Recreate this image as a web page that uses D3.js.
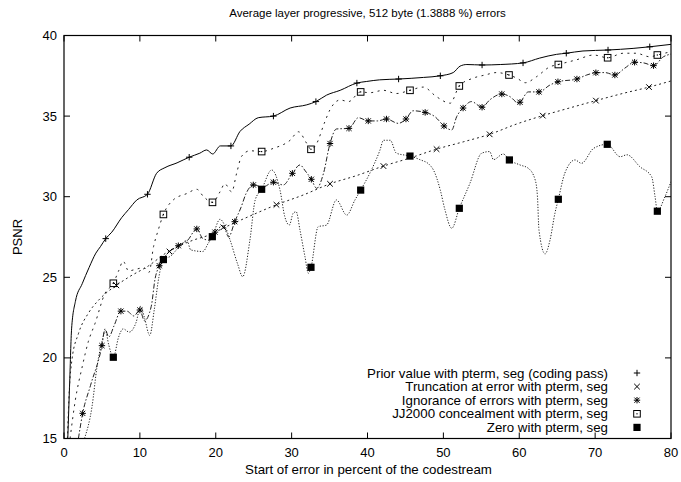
<!DOCTYPE html>
<html>
<head>
<meta charset="utf-8">
<script src="https://cdn.jsdelivr.net/npm/d3@7"></script>
<style>
  body { margin: 0; background: #fff; }
  svg { display: block; }
  text { font-family: "Liberation Sans", Arial, Helvetica, sans-serif; fill: #000; }
</style>
</head>
<body>
<svg id="chart" width="681" height="482"></svg>
<script>
// values: [percent, PSNR]
const priorLine = [[0.5,15],[0.75,18.5],[1.0,21.8],[1.5,23.5],[2.4,24.6],[3.3,25.6],[4.2,26.5],[4.8,26.9],[5.5,27.4],[6.3,27.8],[7.6,28.7],[8.5,29.2],[9.6,29.8],[11,30.15],[12.2,31.45],[13.3,31.8],[14.9,32.1],[16.5,32.45],[17.9,32.7],[18.8,32.9],[19.6,32.65],[20.6,33.15],[22,33.15],[23.2,34.05],[24.4,34.5],[25.6,34.9],[27.6,35.0],[29.8,35.5],[32,35.7],[33.2,35.9],[34.6,36.3],[36.4,36.6],[38.6,37.05],[39.9,37.15],[41.6,37.25],[44.1,37.3],[47.4,37.4],[49.6,37.5],[51.3,37.7],[52.2,38.1],[53.1,38.2],[55.1,38.17],[57.5,38.2],[60.5,38.3],[62.7,38.6],[64.9,38.83],[66.2,38.9],[68.4,39.04],[71.7,39.1],[75,39.2],[77.2,39.3],[80,39.45]];
const priorPts = [[5.5,27.4],[11,30.15],[16.5,32.45],[22,33.15],[27.6,35.0],[33.2,35.9],[38.6,37.05],[44.1,37.3],[49.6,37.5],[55.1,38.17],[60.5,38.3],[66.2,38.9],[71.7,39.1],[77.2,39.3]];

const truncLine = [[0.45,15],[0.7,18],[1.05,19.9],[1.9,21.5],[3.25,22.8],[4.6,23.6],[6.3,24.3],[6.9,24.5],[8.5,25.0],[11.1,25.7],[13.75,26.6],[15,26.9],[17,27.3],[19,27.6],[21.2,28.1],[24.5,28.8],[28,29.5],[31.5,30.1],[35.06,30.8],[38.5,31.3],[42.1,31.9],[45.6,32.4],[49.1,32.95],[52.6,33.4],[56.1,33.87],[59.6,34.5],[63.1,35.03],[66.6,35.5],[70.1,35.96],[73.6,36.4],[77.1,36.8],[80,37.18]];
const truncPts = [[6.9,24.5],[13.9,26.6],[21.0,28.1],[28,29.5],[35.06,30.8],[42.1,31.9],[49.1,32.95],[56.1,33.87],[63.1,35.03],[70.1,35.96],[77.1,36.8]];

const ignorLine = [[1.9,15],[2.46,16.56],[3.5,18.3],[5.0,20.76],[5.4,21.8],[5.9,21.3],[6.6,22.0],[7.5,22.9],[8.3,22.9],[9.2,22.6],[10,22.97],[10.6,22.3],[11.5,23.2],[12.0,24.9],[12.56,25.72],[13.5,26.4],[15.07,26.96],[16.3,27.3],[17.5,28.0],[18.3,27.4],[19.2,27.3],[19.9,27.8],[21,28.2],[21.7,27.5],[22.5,28.45],[23.3,29.3],[24.0,30.2],[24.95,30.73],[26.2,30.6],[27.6,30.9],[28.9,30.73],[30.1,31.45],[31.1,31.97],[31.8,31.6],[32.6,31.08],[33.3,30.52],[34.2,31.45],[35.06,33.3],[35.9,34.2],[37.56,34.24],[38.8,34.9],[40.1,34.7],[41.3,34.7],[42.5,34.82],[44.06,34.55],[45.07,34.82],[46,35.33],[47.6,35.23],[48.9,34.96],[50.08,34.39],[51.1,34.14],[51.75,34.96],[52.6,35.5],[53.7,35.9],[55.1,35.55],[56.1,36.0],[57.7,36.37],[58.8,36.2],[59.9,35.8],[61.2,36.5],[62.6,36.5],[64.05,36.93],[65.1,37.13],[67.6,37.3],[68.9,37.55],[70.1,37.69],[71.3,37.7],[72.6,37.55],[73.9,37.97],[75.2,38.34],[76.4,38.3],[77.7,38.13],[79,38.68],[80,38.85]];
const ignorPts = [[2.46,16.56],[5.0,20.76],[7.5,22.9],[10,22.97],[12.56,25.72],[15.07,26.96],[17.5,28.0],[19.9,27.8],[22.5,28.45],[24.95,30.73],[27.6,30.9],[30.1,31.45],[32.6,31.08],[35.06,33.3],[37.56,34.24],[40.1,34.7],[42.5,34.82],[45.07,34.82],[47.6,35.23],[50.08,34.39],[52.6,35.5],[55.1,35.55],[57.7,36.37],[60.1,35.86],[62.6,36.5],[65.1,37.13],[67.6,37.3],[70.1,37.69],[72.6,37.55],[75.2,38.34],[77.7,38.13]];

const jjLine = [[0.8,15],[1.5,17.4],[2.4,19.45],[3.2,21.0],[4.1,22.15],[5.4,24.0],[6.5,24.63],[7.2,25.4],[7.8,26.0],[8.5,25.4],[9.5,25.5],[10.5,25.6],[11.2,25.3],[11.8,26.9],[12.4,27.9],[13.1,28.9],[14.4,29.8],[16.2,30.2],[17.5,30.46],[18.4,30.0],[19.57,29.65],[20.56,30.3],[21.2,30.8],[22.1,30.3],[22.75,31.45],[23.4,32.5],[24.5,32.85],[26.05,32.8],[27.6,33.0],[29.8,33.5],[30.9,34.03],[32.0,33.3],[32.55,32.94],[33.3,33.3],[34.3,34.55],[35.06,35.4],[36.4,36.0],[37.5,35.9],[39.1,36.5],[40.3,36.45],[42.1,36.6],[43.8,36.4],[45.6,36.6],[47.35,36.8],[49.1,36.2],[50.9,35.8],[52.1,36.87],[53.9,37.35],[55.5,37.55],[57,37.7],[58.65,37.55],[59.7,37.35],[60.8,37.07],[62.3,37.45],[64.05,38.06],[65.15,38.2],[67.6,38.5],[69.8,38.79],[71.65,38.62],[73.7,38.9],[75.4,38.9],[77.2,38.68],[78.2,38.79],[80,39.0]];
const jjPts = [[6.5,24.63],[13.1,28.9],[19.57,29.65],[26.05,32.8],[32.55,32.94],[39.1,36.5],[45.6,36.6],[52.1,36.87],[58.65,37.55],[65.15,38.2],[71.65,38.62],[78.2,38.79]];

const zeroLine = [[2.7,15],[3.7,17],[4.35,19.45],[5.0,21.0],[5.45,21.7],[5.9,20.8],[6.5,20.04],[7.2,21.3],[7.8,21.8],[8.6,21.6],[9.5,22.2],[10.1,23.2],[10.6,22.5],[11.3,21.4],[11.9,23.0],[12.5,25.0],[13.1,26.1],[14,26.3],[15.2,26.9],[16.2,27.3],[16.7,26.7],[18.3,26.6],[19.0,27.1],[19.55,27.52],[20.56,28.6],[21.2,28.2],[21.9,27.3],[22.9,25.8],[23.55,25.04],[24.5,27.3],[25.2,29.8],[26.05,30.46],[27.37,31.66],[28.47,30.41],[29.1,28.76],[29.7,28.24],[30.2,28.97],[30.6,29.07],[31.1,27.93],[31.76,26.28],[32.2,25.25],[32.55,25.62],[33.5,28.14],[34.6,28.24],[35.9,29.8],[37.26,28.86],[38.35,29.8],[39.1,30.41],[40.3,31.45],[41.65,32.9],[42.1,33.5],[43,33.5],[43.8,32.7],[45.6,32.52],[46.9,32.3],[48.2,31.97],[48.7,31.65],[49.6,30.4],[50.2,29.2],[51.1,28.04],[52.1,29.28],[53.5,30.83],[55.05,32.7],[56.1,32.8],[56.6,32.3],[57.9,32.65],[58.7,32.28],[60.1,31.97],[61.2,31.76],[62.1,31.04],[62.4,30.0],[62.6,27.93],[63.4,26.45],[64.05,27.3],[64.7,28.97],[65.15,29.84],[66,31.45],[67.35,32.28],[68.2,32.07],[69.8,33.0],[71.6,33.25],[73.3,32.48],[74.2,32.6],[75.9,31.86],[77.45,31.24],[77.9,30.0],[78.2,29.1],[79.2,30.0],[80,30.93]];
const zeroPts = [[6.5,20.04],[13.1,26.1],[19.55,27.52],[26.05,30.46],[32.55,25.62],[39.1,30.41],[45.6,32.52],[52.1,29.28],[58.7,32.28],[65.15,29.84],[71.6,33.25],[78.2,29.1]];

const seriesNames = [
  'Prior value with pterm, seg (coding pass)',
  'Truncation at error with pterm, seg',
  'Ignorance of errors with pterm, seg',
  'JJ2000 concealment with pterm, seg',
  'Zero with pterm, seg'
];
const xTicks = [0, 10, 20, 30, 40, 50, 60, 70, 80];
const yTicks = [15, 20, 25, 30, 35, 40];

const series = [
  { name: seriesNames[0], line: priorLine, pts: priorPts, dash: null, mark: 'plus' },
  { name: seriesNames[1], line: truncLine, pts: truncPts, dash: '2,3', mark: 'cross' },
  { name: seriesNames[2], line: ignorLine, pts: ignorPts, dash: '5,2,1.5,2', mark: 'star' },
  { name: seriesNames[3], line: jjLine, pts: jjPts, dash: '2,4.5', mark: 'box' },
  { name: seriesNames[4], line: zeroLine, pts: zeroPts, dash: '1.2,1.6', mark: 'fbox' }
];

const svg = d3.select('#chart');
const pLeft = 64, pRight = 671, pTop = 35.5, pBottom = 438.5;

const x = d3.scaleLinear().domain([0, 80]).range([pLeft, pRight]);
const y = d3.scaleLinear().domain([15, 40]).range([pBottom, pTop]);

svg.append('rect').attr('width', 681).attr('height', 482).attr('fill', '#fff');

svg.append('defs').append('clipPath').attr('id', 'plotclip')
  .append('rect').attr('x', pLeft).attr('y', pTop)
  .attr('width', pRight - pLeft).attr('height', pBottom - pTop);

// ticks on all four sides, pointing inward
const tickLen = 6;
const axisG = svg.append('g').attr('stroke', '#000').attr('stroke-width', 1);
xTicks.forEach(t => {
  axisG.append('line').attr('x1', x(t)).attr('x2', x(t)).attr('y1', pBottom).attr('y2', pBottom - tickLen);
  axisG.append('line').attr('x1', x(t)).attr('x2', x(t)).attr('y1', pTop).attr('y2', pTop + tickLen);
});
yTicks.forEach(t => {
  axisG.append('line').attr('x1', pLeft).attr('x2', pLeft + tickLen).attr('y1', y(t)).attr('y2', y(t));
  axisG.append('line').attr('x1', pRight).attr('x2', pRight - tickLen).attr('y1', y(t)).attr('y2', y(t));
});

svg.append('g').selectAll('text').data(xTicks).join('text')
  .attr('x', d => x(d)).attr('y', 456.5)
  .attr('text-anchor', 'middle').attr('font-size', 13).text(d => d);
svg.append('g').selectAll('text').data(yTicks).join('text')
  .attr('x', 57).attr('y', d => y(d)).attr('dy', '0.35em')
  .attr('text-anchor', 'end').attr('font-size', 13).text(d => d);

svg.append('text').attr('x', (pLeft + pRight) / 2).attr('y', 17)
  .attr('text-anchor', 'middle').attr('font-size', 11.5)
  .text('Average layer progressive, 512 byte (1.3888 %) errors');
svg.append('text').attr('x', (pLeft + pRight) / 2 + 1).attr('y', 474)
  .attr('text-anchor', 'middle').attr('font-size', 13.3)
  .text('Start of error in percent of the codestream');
svg.append('text').attr('transform', `translate(22,${(pTop + pBottom) / 2}) rotate(-90)`)
  .attr('text-anchor', 'middle').attr('font-size', 13).text('PSNR');

// curves
const lineGen = d3.line().x(d => x(d[0])).y(d => y(d[1])).curve(d3.curveMonotoneX);
const plot = svg.append('g').attr('clip-path', 'url(#plotclip)');

series.forEach(s => {
  plot.append('path').datum(s.line)
    .attr('d', lineGen)
    .attr('fill', 'none')
    .attr('stroke', s.dash ? '#222' : '#000')
    .attr('stroke-width', 1)
    .attr('stroke-dasharray', s.dash);
});

function drawMark(g, kind, cx, cy) {
  const h = 3.2;
  const seg = (x1, y1, x2, y2) => {
    g.append('line').attr('x1', x1).attr('y1', y1).attr('x2', x2).attr('y2', y2)
      .attr('stroke', '#000').attr('stroke-width', 1);
  };
  if (kind === 'plus' || kind === 'star') {
    seg(cx - h, cy, cx + h, cy);
    seg(cx, cy - h, cx, cy + h);
  }
  if (kind === 'cross' || kind === 'star') {
    const c = kind === 'star' ? 2.6 : 2.8;
    seg(cx - c, cy - c, cx + c, cy + c);
    seg(cx - c, cy + c, cx + c, cy - c);
  }
  if (kind === 'box') {
    g.append('rect').attr('x', cx - 3.3).attr('y', cy - 3.3).attr('width', 6.6).attr('height', 6.6)
      .attr('fill', 'none').attr('stroke', '#000').attr('stroke-width', 1);
    g.append('rect').attr('x', cx - 0.6).attr('y', cy - 0.6).attr('width', 1.2).attr('height', 1.2).attr('fill', '#000');
  }
  if (kind === 'fbox') {
    g.append('rect').attr('x', cx - 3.6).attr('y', cy - 3.6).attr('width', 7.2).attr('height', 7.2).attr('fill', '#000');
  }
}

series.forEach(s => {
  const g = plot.append('g');
  s.pts.forEach(p => drawMark(g, s.mark, x(p[0]), y(p[1])));
});

// legend: text right-aligned, symbol only
const legY0 = 373, legDy = 13.6;
const leg = svg.append('g');
series.forEach((s, i) => {
  const ly = legY0 + i * legDy;
  leg.append('text').attr('x', 608).attr('y', ly).attr('dy', '0.35em')
    .attr('text-anchor', 'end').attr('font-size', 13.3).text(s.name);
  drawMark(leg, s.mark, 637, ly);
});

// frame
svg.append('rect').attr('x', pLeft).attr('y', pTop)
  .attr('width', pRight - pLeft).attr('height', pBottom - pTop)
  .attr('fill', 'none').attr('stroke', '#000').attr('stroke-width', 1.2);
</script>
</body>
</html>
